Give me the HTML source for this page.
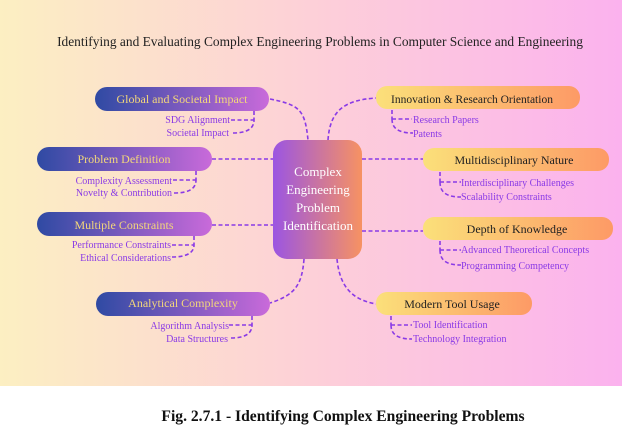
<!DOCTYPE html>
<html><head><style>
html,body{margin:0;padding:0;width:622px;height:442px;overflow:hidden;background:#fff;}
svg{display:block;font-family:"Liberation Serif",serif;}
</style></head><body>
<svg width="622" height="442" viewBox="0 0 622 442" xmlns="http://www.w3.org/2000/svg">
<defs>
<linearGradient id="bg" x1="0" x2="1" y1="0" y2="0">
<stop offset="0" stop-color="#fcefc2"/><stop offset="0.5" stop-color="#fdd0d8"/><stop offset="1" stop-color="#fbb2ee"/>
</linearGradient>
<linearGradient id="blue" x1="0" x2="1"><stop offset="0" stop-color="#2f4aa3"/><stop offset="1" stop-color="#c96ada"/></linearGradient>
<linearGradient id="org" x1="0" x2="1"><stop offset="0" stop-color="#fbe07a"/><stop offset="1" stop-color="#fd9a66"/></linearGradient>
<linearGradient id="ctr" x1="0" x2="1"><stop offset="0" stop-color="#9b55e2"/><stop offset="1" stop-color="#f79262"/></linearGradient>
</defs>
<rect x="0" y="0" width="622" height="386" fill="url(#bg)"/>
<text x="320" y="46" text-anchor="middle" font-size="13.4" fill="#222">Identifying and Evaluating Complex Engineering Problems in Computer Science and Engineering</text>

<g fill="none" stroke="#8a3ae6" stroke-width="1.6" stroke-dasharray="4,2.5">
<path d="M270,99 C300,105 305,110 308,140"/>
<path d="M328,140 C330,110 345,100 376,98"/>
<path d="M212,159 H273"/>
<path d="M212,225 H273"/>
<path d="M304,259 C302,285 295,295 270,303"/>
<path d="M337,259 C340,290 355,300 376,304"/>
<path d="M362,159 H423"/>
<path d="M362,231 H423"/>
<path d="M254,111 V120 M231,120 H254 M233,133 C248,133 254,128 254,120"/>
<path d="M196,171 V180 M173,180 H196 M174,193 C190,193 196,188 196,180"/>
<path d="M194,236 V245 M172,245 H194 M172,257 C188,257 194,252 194,245"/>
<path d="M252,316 V325 M229,325 H252 M231,338 C246,338 252,333 252,325"/>
<path d="M392,110 V119 M392,119 H412 M392,119 C392,128 398,133 413,133"/>
<path d="M440,172 V182 M440,182 H461 M440,182 C440,192 446,197 461,197"/>
<path d="M440,241 V250 M440,250 H461 M440,250 C440,260 446,265 461,265"/>
<path d="M391,316 V325 M391,325 H412 M391,325 C391,334 397,339 412,339"/>
</g>

<rect x="95" y="87" width="174" height="24" rx="12" fill="url(#blue)"/>
<text x="182" y="103" text-anchor="middle" font-size="12" fill="#f3d77a">Global and Societal Impact</text>
<rect x="37" y="147" width="175" height="24" rx="12" fill="url(#blue)"/>
<text x="124" y="163" text-anchor="middle" font-size="12" fill="#f3d77a">Problem Definition</text>
<rect x="37" y="212" width="175" height="24" rx="12" fill="url(#blue)"/>
<text x="124" y="229" text-anchor="middle" font-size="12" fill="#f3d77a">Multiple Constraints</text>
<rect x="96" y="292" width="174" height="24" rx="12" fill="url(#blue)"/>
<text x="183" y="307" text-anchor="middle" font-size="12" fill="#f3d77a">Analytical Complexity</text>

<rect x="273" y="140" width="89" height="119" rx="14" fill="url(#ctr)"/>
<g font-size="13" fill="#fff" text-anchor="middle">
<text x="318" y="176">Complex</text><text x="318" y="194">Engineering</text><text x="318" y="212">Problem</text><text x="318" y="230">Identification</text>
</g>

<rect x="376" y="86" width="204" height="23" rx="11" fill="url(#org)"/>
<text x="472" y="103" text-anchor="middle" font-size="11.5" fill="#222">Innovation &amp; Research Orientation</text>
<rect x="423" y="148" width="186" height="23" rx="11" fill="url(#org)"/>
<text x="514" y="164" text-anchor="middle" font-size="12" fill="#222">Multidisciplinary Nature</text>
<rect x="423" y="217" width="190" height="23" rx="11" fill="url(#org)"/>
<text x="517" y="233" text-anchor="middle" font-size="12" fill="#222">Depth of Knowledge</text>
<rect x="376" y="292" width="156" height="23" rx="11" fill="url(#org)"/>
<text x="452" y="308" text-anchor="middle" font-size="12" fill="#222">Modern Tool Usage</text>

<g font-size="10" fill="#8a3ae6">
<g text-anchor="end">
<text x="230" y="123">SDG Alignment</text>
<text x="229" y="136">Societal Impact</text>
<text x="172" y="184">Complexity Assessment</text>
<text x="172" y="196">Novelty &amp; Contribution</text>
<text x="171" y="248">Performance Constraints</text>
<text x="171" y="261">Ethical Considerations</text>
<text x="229" y="329">Algorithm Analysis</text>
<text x="228" y="342">Data Structures</text>
</g>
<text x="413" y="123">Research Papers</text>
<text x="413" y="137">Patents</text>
<text x="461" y="186">Interdisciplinary Challenges</text>
<text x="461" y="200">Scalability Constraints</text>
<text x="461" y="253">Advanced Theoretical Concepts</text>
<text x="461" y="269">Programming Competency</text>
<text x="413" y="328">Tool Identification</text>
<text x="413" y="342">Technology Integration</text>
</g>

<text x="343" y="421" text-anchor="middle" font-size="15.6" font-weight="bold" fill="#111">Fig. 2.7.1 - Identifying Complex Engineering Problems</text>
</svg>
</body></html>
